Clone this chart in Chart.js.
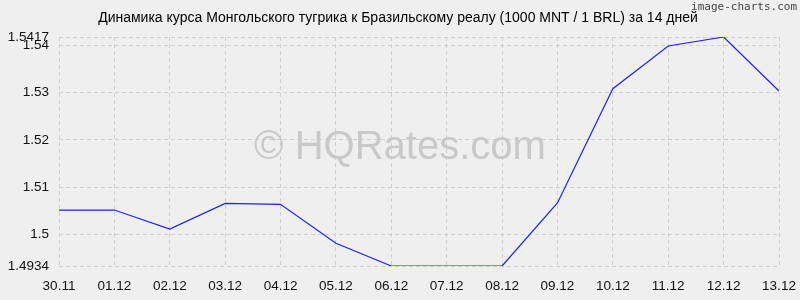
<!DOCTYPE html>
<html><head><meta charset="utf-8">
<script src="https://cdn.jsdelivr.net/npm/chart.js@4"></script>
<style>html,body{margin:0;padding:0;background:#efefef}#wrap{width:800px;height:300px}</style>
</head><body><div id="wrap"><canvas id="c" width="800" height="300"></canvas></div>
<script>
const categories = ["30.11","01.12","02.12","03.12","04.12","05.12","06.12","07.12","08.12","09.12","10.12","11.12","12.12","13.12"];
const rates = [1.5052,1.5052,1.5012,1.5066,1.5064,1.4982,1.4934,1.4934,1.4934,1.5067,1.5308,1.5398,1.5417,1.5303];
const yTicks = [1.4934,1.5,1.51,1.52,1.53,1.54,1.5417];
const titleText = "Динамика курса Монгольского тугрика к Бразильскому реалу (1000 MNT / 1 BRL) за 14 дней";
const watermark = "© HQRates.com";
const brand = "image-charts.com";

const deco = {
  id:'deco',
  beforeDraw(chart){
    const ctx = chart.ctx;
    ctx.save();
    ctx.fillStyle = '#efefef';
    ctx.fillRect(0,0,chart.width,chart.height);
    ctx.restore();
  },
  beforeDatasetsDraw(chart){
    const ctx = chart.ctx;
    ctx.save();
    ctx.fillStyle = '#c9c9c9';
    ctx.font = '40px "Liberation Sans", Arial, sans-serif';
    ctx.textAlign = 'center'; ctx.textBaseline = 'middle';
    ctx.fillText(watermark, 400, 148);
    ctx.restore();
  },
  afterDraw(chart){
    const ctx = chart.ctx;
    ctx.save();
    ctx.fillStyle = '#000';
    ctx.font = '14px "Liberation Sans", Arial, sans-serif';
    ctx.textAlign = 'center'; ctx.textBaseline = 'middle';
    ctx.fillText(titleText, 398, 18);
    ctx.fillStyle = '#444';
    ctx.font = '11px "DejaVu Sans Mono", monospace';
    ctx.textAlign = 'right';
    ctx.fillText(brand, 797, 7);
    ctx.restore();
  }
};

const tickFont = {size:13.5, family:'"Liberation Sans", Arial, sans-serif'};

new Chart(document.getElementById('c'), {
  type:'line',
  data:{labels:categories, datasets:[{data:rates, borderColor:'#2020ff', borderWidth:1.2, pointRadius:0, fill:false, tension:0}]},
  options:{
    responsive:false, animation:false,
    layout:{autoPadding:false, padding:{top:37,right:21,left:0,bottom:0}},
    plugins:{legend:{display:false}, tooltip:{enabled:false}, title:{display:false}},
    scales:{
      x:{
        grid:{color:'#cfcfcf', drawTicks:false, lineWidth:1},
        border:{display:false, dash:[4,3]},
        ticks:{color:'#111', font:tickFont, padding:12, maxRotation:0, autoSkip:false},
        afterFit(s){ s.height = 34; s.paddingLeft = 0; s.paddingRight = 0; }
      },
      y:{
        min:1.4934, max:1.5417,
        afterBuildTicks(s){ s.ticks = yTicks.map(v=>({value:v})); },
        grid:{color:'#cfcfcf', drawTicks:false, lineWidth:1},
        border:{display:false, dash:[4,3]},
        ticks:{color:'#111', font:tickFont, padding:10, callback:(v)=>String(v)},
        afterFit(s){ s.width = 59; s.paddingTop = 0; s.paddingBottom = 0; }
      }
    }
  },
  plugins:[deco]
});
</script></body></html>
